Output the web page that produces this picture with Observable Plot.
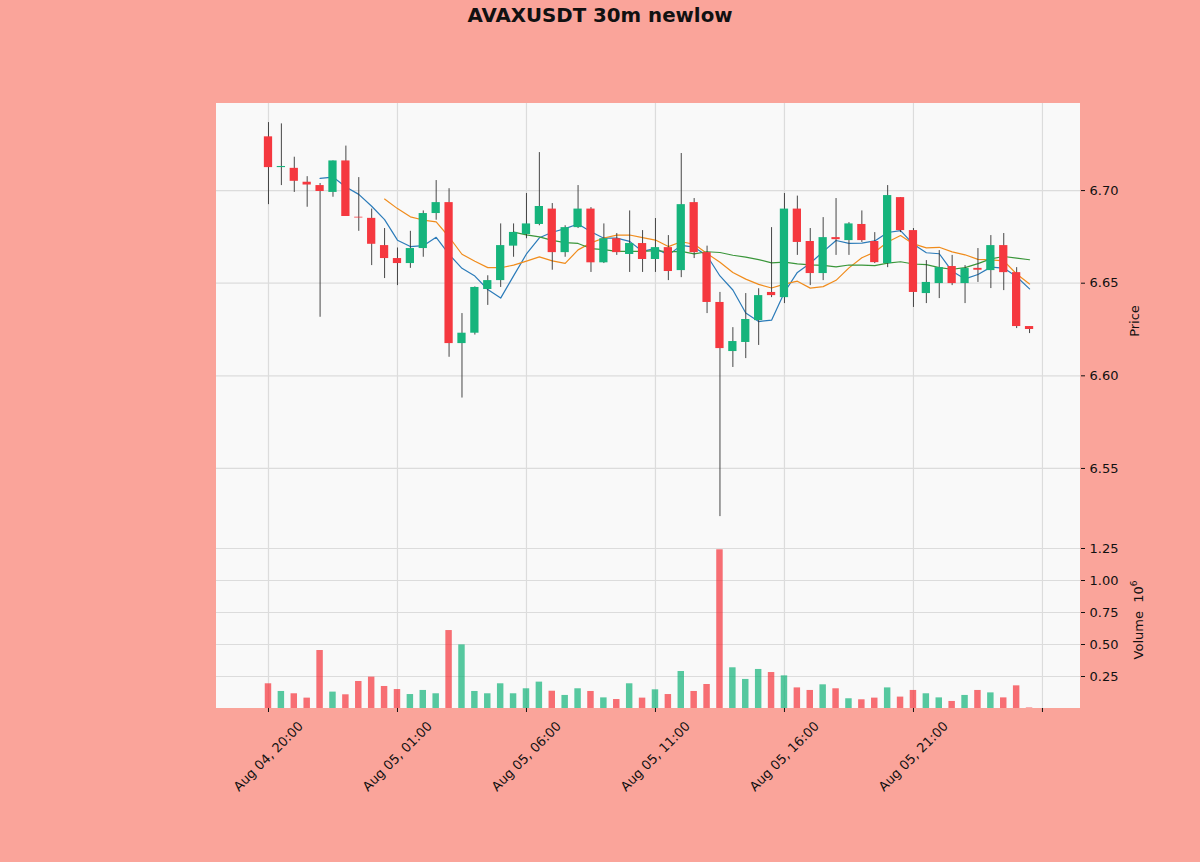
<!DOCTYPE html>
<html><head><meta charset="utf-8">
<script src="https://cdn.jsdelivr.net/npm/d3@7"></script>
<script src="https://cdn.jsdelivr.net/npm/@observablehq/plot@0.6"></script>
<style>
html,body{margin:0;padding:0;background:#faa49a;}
#wrap{position:relative;width:1200px;height:862px;background:#faa49a;font-family:"DejaVu Sans",sans-serif;overflow:hidden;color:#111}
#wrap svg{position:absolute;left:0;}
#panelbg{position:absolute;left:216px;top:103px;width:864px;height:605px;background:#f9f9f9;}
#title{position:absolute;top:5px;left:0;width:1200px;text-align:center;font-weight:bold;font-size:19.8px;line-height:22px;}
.ylab{position:absolute;font-size:13px;white-space:nowrap;transform:translate(-50%,-50%) rotate(-90deg);line-height:15px;}
.ylab sup{font-size:9px;vertical-align:6px;}
</style></head><body>
<div id="wrap"><div id="panelbg"></div><div id="title">AVAXUSDT 30m newlow</div></div>
<script>
const open = [6.729,6.7124,6.712,6.7045,6.7027,6.699,6.716,6.6856,6.685,6.6703,
  6.6633,6.6606,6.6687,6.6876,6.6935,6.6174,6.623,6.6466,6.6514,6.670,
  6.6763,6.6817,6.690,6.6665,6.680,6.690,6.661,6.674,6.6655,6.6714,
  6.6628,6.6692,6.6568,6.6935,6.6665,6.6396,6.6131,6.618,6.6298,6.645,
  6.6422,6.690,6.6725,6.6552,6.6746,6.673,6.6817,6.6725,6.6606,6.6962,
  6.6784,6.6444,6.6498,6.659,6.6498,6.658,6.6568,6.6703,6.6557,6.6266];
const high = [6.7367,6.736,6.718,6.7075,6.7038,6.716,6.724,6.707,6.690,6.6795,
  6.669,6.678,6.689,6.7054,6.701,6.6336,6.648,6.654,6.682,6.682,
  6.6984,6.7205,6.693,6.681,6.7027,6.6908,6.682,6.6768,6.689,6.6784,
  6.6849,6.6757,6.72,6.6957,6.670,6.645,6.626,6.6444,6.647,6.680,
  6.6984,6.697,6.6795,6.6854,6.6957,6.6827,6.689,6.6773,6.7027,6.6962,
  6.6795,6.6622,6.6676,6.665,6.6595,6.6687,6.6757,6.6768,6.6584,6.6266];
const low = [6.6924,6.7027,6.699,6.691,6.6316,6.6964,6.686,6.678,6.6595,6.6525,
  6.6487,6.658,6.664,6.684,6.610,6.588,6.622,6.638,6.6477,6.664,
  6.674,6.681,6.657,6.664,6.6795,6.6558,6.6606,6.665,6.6558,6.6558,
  6.6558,6.6514,6.653,6.6633,6.6336,6.524,6.6045,6.6093,6.6164,6.6422,
  6.639,6.665,6.6487,6.6514,6.665,6.665,6.672,6.6606,6.6584,6.6773,
  6.6369,6.639,6.6417,6.6487,6.639,6.6504,6.6471,6.646,6.6255,6.6228];
const close = [6.7124,6.713,6.705,6.703,6.6995,6.716,6.686,6.6852,6.671,6.6633,
  6.6606,6.6687,6.6876,6.6935,6.6174,6.623,6.6477,6.6514,6.6703,6.6774,
  6.682,6.6914,6.6665,6.680,6.690,6.661,6.674,6.6665,6.6714,6.6628,
  6.6692,6.6563,6.6924,6.6665,6.6396,6.6147,6.6185,6.6304,6.6433,6.6433,
  6.690,6.672,6.6552,6.6746,6.6735,6.682,6.673,6.6611,6.6973,6.6784,
  6.645,6.6504,6.6584,6.6498,6.6579,6.657,6.6703,6.6557,6.6266,6.625];
// volume in millions (x 10^6)
const volume = [0.193,0.133,0.115,0.081,0.453,0.128,0.107,0.211,0.245,0.172,
  0.148,0.109,0.141,0.115,0.609,0.497,0.133,0.115,0.193,0.115,
  0.154,0.206,0.135,0.102,0.154,0.133,0.083,0.070,0.193,0.081,
  0.146,0.109,0.289,0.133,0.1875,1.240,0.318,0.227,0.305,0.281,
  0.255,0.161,0.141,0.185,0.154,0.076,0.068,0.081,0.161,0.089,
  0.141,0.115,0.083,0.055,0.102,0.141,0.122,0.083,0.177,0.004];
const tickIndex = [0,10,20,30,40,50,60];
const tickLabels = ["Aug 04, 20:00","Aug 05, 01:00","Aug 05, 06:00","Aug 05, 11:00","Aug 05, 16:00","Aug 05, 21:00",""];
const priceTicks = [6.55,6.60,6.65,6.70];
const volTicks = [0.25,0.50,0.75,1.00,1.25];
const mavWindows = [5,10,20];
const mavColors = ["#2b7bb9","#f08c1c","#3a963a"];

const UP = "#16b47c", DOWN = "#f5383f";
const data = open.map((o,i)=>({i, open:o, high:high[i], low:low[i], close:close[i], volume:volume[i]}));
const tickData = tickIndex.map((t,k)=>({i:t, label:tickLabels[k]}));
function mav(k){ return close.map((_,i)=> i<k-1 ? NaN : d3.mean(close.slice(i-k+1,i+1))); }
const xDomain = [-4.03, 62.95];
const gridColor = "#dcdcdc";
const wrap = document.getElementById("wrap");
const baseStyle = {background:"transparent", fontSize:"13px", fontFamily:"DejaVu Sans, sans-serif", color:"#111", overflow:"visible"};

const price = Plot.plot({
  width:1200, height:540, marginLeft:216, marginRight:120, marginTop:103, marginBottom:0,
  style: baseStyle,
  x:{domain:xDomain, axis:null},
  y:{domain:[6.5111,6.747], axis:"right", ticks:priceTicks, tickFormat:d3.format(".2f"), tickSize:4, tickPadding:5, label:null},
  marks:[
    Plot.ruleY(priceTicks, {stroke:gridColor, strokeWidth:1.2}),
    Plot.ruleX(tickIndex, {stroke:gridColor, strokeWidth:1.2}),
    ...mavWindows.map((k,j)=>{const m=mav(k); return Plot.line(data, {x:"i", y:(d)=>m[d.i], stroke:mavColors[j], strokeWidth:1.2});}),
    Plot.ruleX(data, {x:"i", y1:"low", y2:"high", stroke:"#333", strokeWidth:0.9}),
    Plot.rect(data, {x1:d=>d.i-0.32, x2:d=>d.i+0.32, y1:"open", y2:"close", fill:d=>d.close>=d.open?UP:DOWN})
  ]
});
price.style.top = "0px";
wrap.appendChild(price);

const vol = Plot.plot({
  width:1200, height:322, marginLeft:216, marginRight:120, marginTop:0, marginBottom:154,
  style: baseStyle,
  x:{domain:xDomain, axis:"bottom", ticks:tickIndex, tickFormat:()=>"", tickSize:4, label:null},
  y:{domain:[0,1.3125], axis:"right", ticks:volTicks, tickFormat:d3.format(".2f"), tickSize:4, tickPadding:5, label:null},
  marks:[
    Plot.ruleY(volTicks, {stroke:gridColor, strokeWidth:1.2}),
    Plot.ruleX(tickIndex, {stroke:gridColor, strokeWidth:1.2}),
    Plot.rect(data, {x1:d=>d.i-0.25, x2:d=>d.i+0.25, y1:()=>0, y2:"volume", fill:d=>d.close>=d.open?UP:DOWN, fillOpacity:0.72}),
    Plot.text(tickData, {x:"i", text:"label", frameAnchor:"bottom", dy:48, rotate:-45, textAnchor:"middle", lineAnchor:"middle", fontSize:13, fill:"#111"})
  ]
});
vol.style.top = "540px";
wrap.appendChild(vol);

const pl = document.createElement("div");
pl.className = "ylab"; pl.style.left = "1134px"; pl.style.top = "321px"; pl.textContent = "Price";
wrap.appendChild(pl);
const vl = document.createElement("div");
vl.className = "ylab"; vl.style.left = "1136px"; vl.style.top = "620px";
vl.innerHTML = "Volume &nbsp;10<sup>6</sup>";
wrap.appendChild(vl);
</script>
</body></html>
